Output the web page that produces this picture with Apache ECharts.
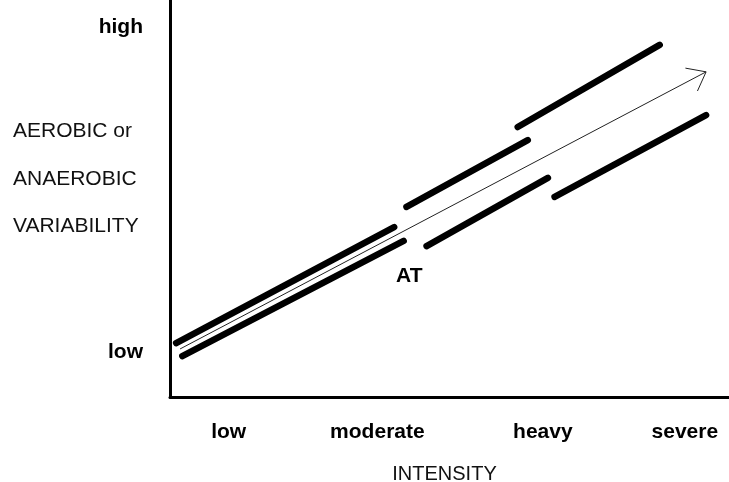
<!DOCTYPE html>
<html>
<head>
<meta charset="utf-8">
<script src="https://cdn.jsdelivr.net/npm/echarts@6/dist/echarts.min.js"></script>
<style>
  html, body { margin: 0; padding: 0; background: #fff; }
  #chart { width: 729px; height: 482px; }
</style>
</head>
<body>
<div id="chart"></div>
<script>
// Axis tick labels (intensity and variability, both on 0-100 scales)
const xTickLabels = ['low', 'moderate', 'heavy', 'severe'];
const xTickValues = [10.5, 37.1, 66.7, 92.1];
const yTickLabels = ['low', 'high'];
const yTickValues = [11.3, 93.2];

// Thick bands of variability: [intensity, variability] endpoints
const belowATUpper = [[1.1, 13.6], [40.1, 42.8]];
const belowATLower = [[2.2, 10.3], [41.8, 39.3]];
const heavyUpper   = [[42.3, 47.9], [64.0, 64.7]];
const heavyLower   = [[45.9, 38.0], [67.6, 55.2]];
const severeUpper  = [[62.2, 68.0], [87.6, 88.7]];
const severeLower  = [[68.8, 50.4], [95.9, 71.0]];

// Central trend arrow: [x1, y1, x2, y2]
const trendArrow = [[1.8, 12.1, 95.9, 81.9]];

// AT marker position
const atPoint = [[42.8, 30.5]];
const atLabel = 'AT';

const segments = [belowATUpper, belowATLower, heavyUpper, heavyLower, severeUpper, severeLower];

const FONT = '"Liberation Sans", Arial, sans-serif';

function nearestLabel(values, labels, v) {
  let best = 0;
  for (let i = 1; i < values.length; i++) {
    if (Math.abs(values[i] - v) < Math.abs(values[best] - v)) best = i;
  }
  return labels[best];
}

const chart = echarts.init(document.getElementById('chart'), null, { renderer: 'canvas' });

const series = segments.map(function (seg) {
  return {
    type: 'line',
    data: seg,
    showSymbol: false,
    symbol: 'none',
    silent: true,
    lineStyle: { color: '#000', width: 6.5, cap: 'round' },
    z: 3
  };
});

series.push({
  type: 'custom',
  silent: true,
  encode: { x: [0, 2], y: [1, 3] },
  data: trendArrow,
  z: 4,
  renderItem: function (params, api) {
    const p1 = api.coord([api.value(0), api.value(1)]);
    const p2 = api.coord([api.value(2), api.value(3)]);
    const ang = Math.atan2(p2[1] - p1[1], p2[0] - p1[0]);
    const len = 21, spread = 38 * Math.PI / 180;
    const a1 = [p2[0] - len * Math.cos(ang - spread), p2[1] - len * Math.sin(ang - spread)];
    const a2 = [p2[0] - len * Math.cos(ang + spread), p2[1] - len * Math.sin(ang + spread)];
    const style = { stroke: '#222', lineWidth: 1, fill: null };
    return {
      type: 'group',
      children: [
        { type: 'line', shape: { x1: p1[0], y1: p1[1], x2: p2[0], y2: p2[1] }, style: style },
        { type: 'polyline', shape: { points: [a1, p2, a2] }, style: style }
      ]
    };
  }
});

series.push({
  type: 'custom',
  silent: true,
  encode: { x: 0, y: 1 },
  data: atPoint,
  z: 5,
  renderItem: function (params, api) {
    const p = api.coord([api.value(0), api.value(1)]);
    return {
      type: 'text',
      x: p[0],
      y: p[1],
      style: {
        text: atLabel,
        font: 'bold 21px ' + FONT,
        fill: '#000',
        align: 'center',
        verticalAlign: 'middle'
      }
    };
  }
});

chart.setOption({
  animation: false,
  backgroundColor: '#fff',
  grid: { left: 170, right: 0, top: 0, bottom: 85, containLabel: false, outerBoundsMode: 'none' },
  xAxis: {
    type: 'value',
    min: 0,
    max: 100,
    splitLine: { show: false },
    axisTick: { show: false },
    axisLine: { show: true, onZero: false, lineStyle: { color: '#000', width: 3 } },
    axisLabel: {
      customValues: xTickValues,
      margin: 25,
      fontFamily: FONT,
      fontWeight: 'bold',
      fontSize: 21,
      color: '#000',
      formatter: function (v) { return nearestLabel(xTickValues, xTickLabels, v); }
    },
    name: 'INTENSITY',
    nameLocation: 'middle',
    nameGap: 67,
    nameTextStyle: { fontFamily: FONT, fontSize: 20, color: '#111', padding: [0, 10, 0, 0] }
  },
  yAxis: {
    type: 'value',
    min: 0,
    max: 100,
    splitLine: { show: false },
    axisTick: { show: false },
    axisLine: { show: true, onZero: false, lineStyle: { color: '#000', width: 3 } },
    axisLabel: {
      customValues: yTickValues,
      margin: 27,
      fontFamily: FONT,
      fontWeight: 'bold',
      fontSize: 21,
      color: '#000',
      formatter: function (v) { return nearestLabel(yTickValues, yTickLabels, v); }
    }
  },
  graphic: [
    { type: 'text', left: 13, top: 121, style: { text: 'AEROBIC or', font: '21px ' + FONT, fill: '#111' } },
    { type: 'text', left: 13, top: 169, style: { text: 'ANAEROBIC', font: '21px ' + FONT, fill: '#111' } },
    { type: 'text', left: 13, top: 216, style: { text: 'VARIABILITY', font: '21px ' + FONT, fill: '#111' } }
  ],
  series: series
});
</script>
</body>
</html>
